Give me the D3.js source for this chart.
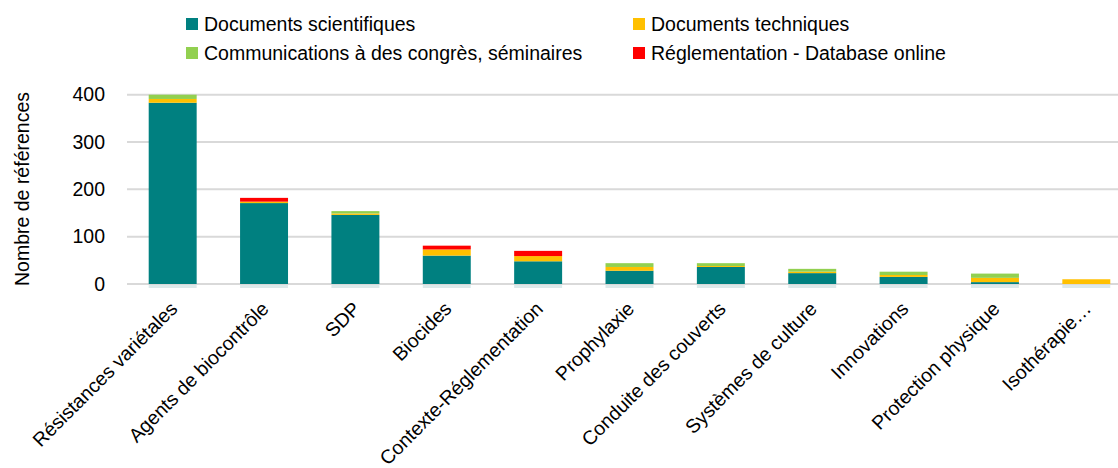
<!DOCTYPE html>
<html>
<head>
<meta charset="utf-8">
<script src="https://cdn.jsdelivr.net/npm/d3@7"></script>
<style>
  body { margin: 0; background: #fff; }
  text { font-family: "Liberation Sans", Arial, sans-serif; fill: #000; }
</style>
</head>
<body>
<div id="chart"></div>
<script>
(function(){
  var width = 1118,
    height = 468;

  // categories and series, bottom of the stack first
  var categories = ["Résistances variétales", "Agents de biocontrôle", "SDP", "Biocides",
    "Contexte-Réglementation", "Prophylaxie", "Conduite des couverts", "Systèmes de culture",
    "Innovations", "Protection physique", "Isothérapie…"];
  var scientifiques = [383, 171, 146, 60, 48, 28, 36, 23, 15, 4, 0];
  var techniques = [8, 3, 3, 13, 11, 8, 2, 3, 4, 9, 10];
  var communications = [9, 0, 5, 0, 0, 8, 6, 6, 7, 9, 0];
  var reglementation = [0, 8, 0, 8, 11, 0, 0, 0, 0, 0, 0];
  var yTicks = [0, 100, 200, 300, 400];

  var seriesNames = ["Documents scientifiques", "Documents techniques",
    "Communications à des congrès, séminaires", "Réglementation - Database online"];
  var colors = ["#008080", "#FFC000", "#92D050", "#FF0000"];

  var rows = categories.map(function(c, i){
    return { cat: c, s0: scientifiques[i], s1: techniques[i], s2: communications[i], s3: reglementation[i] };
  });

  var svg = d3.select("#chart")
    .append("svg")
    .attr("width", width)
    .attr("height", height)

  var left = 127, right = 1132, top = 94.7, bottom = 284;
  var fs = "19.5px";

  var x = d3.scaleBand().domain(categories).range([left, right]).paddingInner(0.475).paddingOuter(0.2375)
  var y = d3.scaleLinear().domain([0, 400]).range([bottom, top])

  //gridlines
  svg.append("g").selectAll("line")
    .data(yTicks)
    .enter().append("line")
    .attr("x1", left).attr("x2", right)
    .attr("y1", function(d){ return y(d) }).attr("y2", function(d){ return y(d) })
    .attr("stroke", "#d9d9d9")
    .attr("stroke-width", 2)

  // y axis labels
  var yAxis = svg.append("g")
    .attr("transform", "translate(" + (left - 10) + ",0)")
    .call(d3.axisLeft(y).tickValues(yTicks).tickSize(0).tickPadding(12))
  yAxis.select(".domain").remove()
  yAxis.selectAll("text").style("font-size", fs).attr("font-family", null)

  svg.append("text")
    .attr("transform", "translate(29,189) rotate(-90)")
    .attr("text-anchor", "middle")
    .style("font-size", fs)
    .text("Nombre de références")

  // stacked bars
  var stack = d3.stack().keys(["s0", "s1", "s2", "s3"])
  var layers = stack(rows)

  // faint shade under each bar
  svg.append("g").selectAll("rect")
    .data(categories)
    .enter().append("rect")
    .attr("x", function(d){ return x(d) })
    .attr("y", bottom + 1)
    .attr("width", x.bandwidth())
    .attr("height", 3)
    .attr("fill", "#dde9ea")

  svg.append("g").selectAll("g")
    .data(layers)
    .enter().append("g")
    .attr("fill", function(d, i){ return colors[i] })
    .selectAll("rect")
    .data(function(d){ return d })
    .enter().append("rect")
    .attr("x", function(d){ return x(d.data.cat) })
    .attr("y", function(d){ return y(d[1]) })
    .attr("width", x.bandwidth())
    .attr("height", function(d){ return y(d[0]) - y(d[1]) })

  // x labels
  svg.append("g").selectAll("text")
    .data(categories)
    .enter().append("text")
    .attr("transform", function(d){
      return "translate(" + (x(d) + x.bandwidth() / 2 + 6) + ",310) rotate(-45)"
    })
    .attr("text-anchor", "end")
    .style("font-size", fs)
    .text(function(d){ return d })

  // legend
  var legendPos = [[186, 24], [633, 24], [186, 53], [633, 53]]
  var legend = svg.append("g").selectAll("g")
    .data(seriesNames)
    .enter().append("g")
    .attr("transform", function(d, i){ return "translate(" + legendPos[i][0] + "," + legendPos[i][1] + ")" })
  legend.append("rect")
    .attr("x", 0).attr("y", -6)
    .attr("width", 12).attr("height", 12)
    .attr("fill", function(d, i){ return colors[i] })
  legend.append("text")
    .attr("x", 18)
    .attr("dy", "0.35em")
    .style("font-size", fs)
    .text(function(d){ return d })

})();
</script>
</body>
</html>
